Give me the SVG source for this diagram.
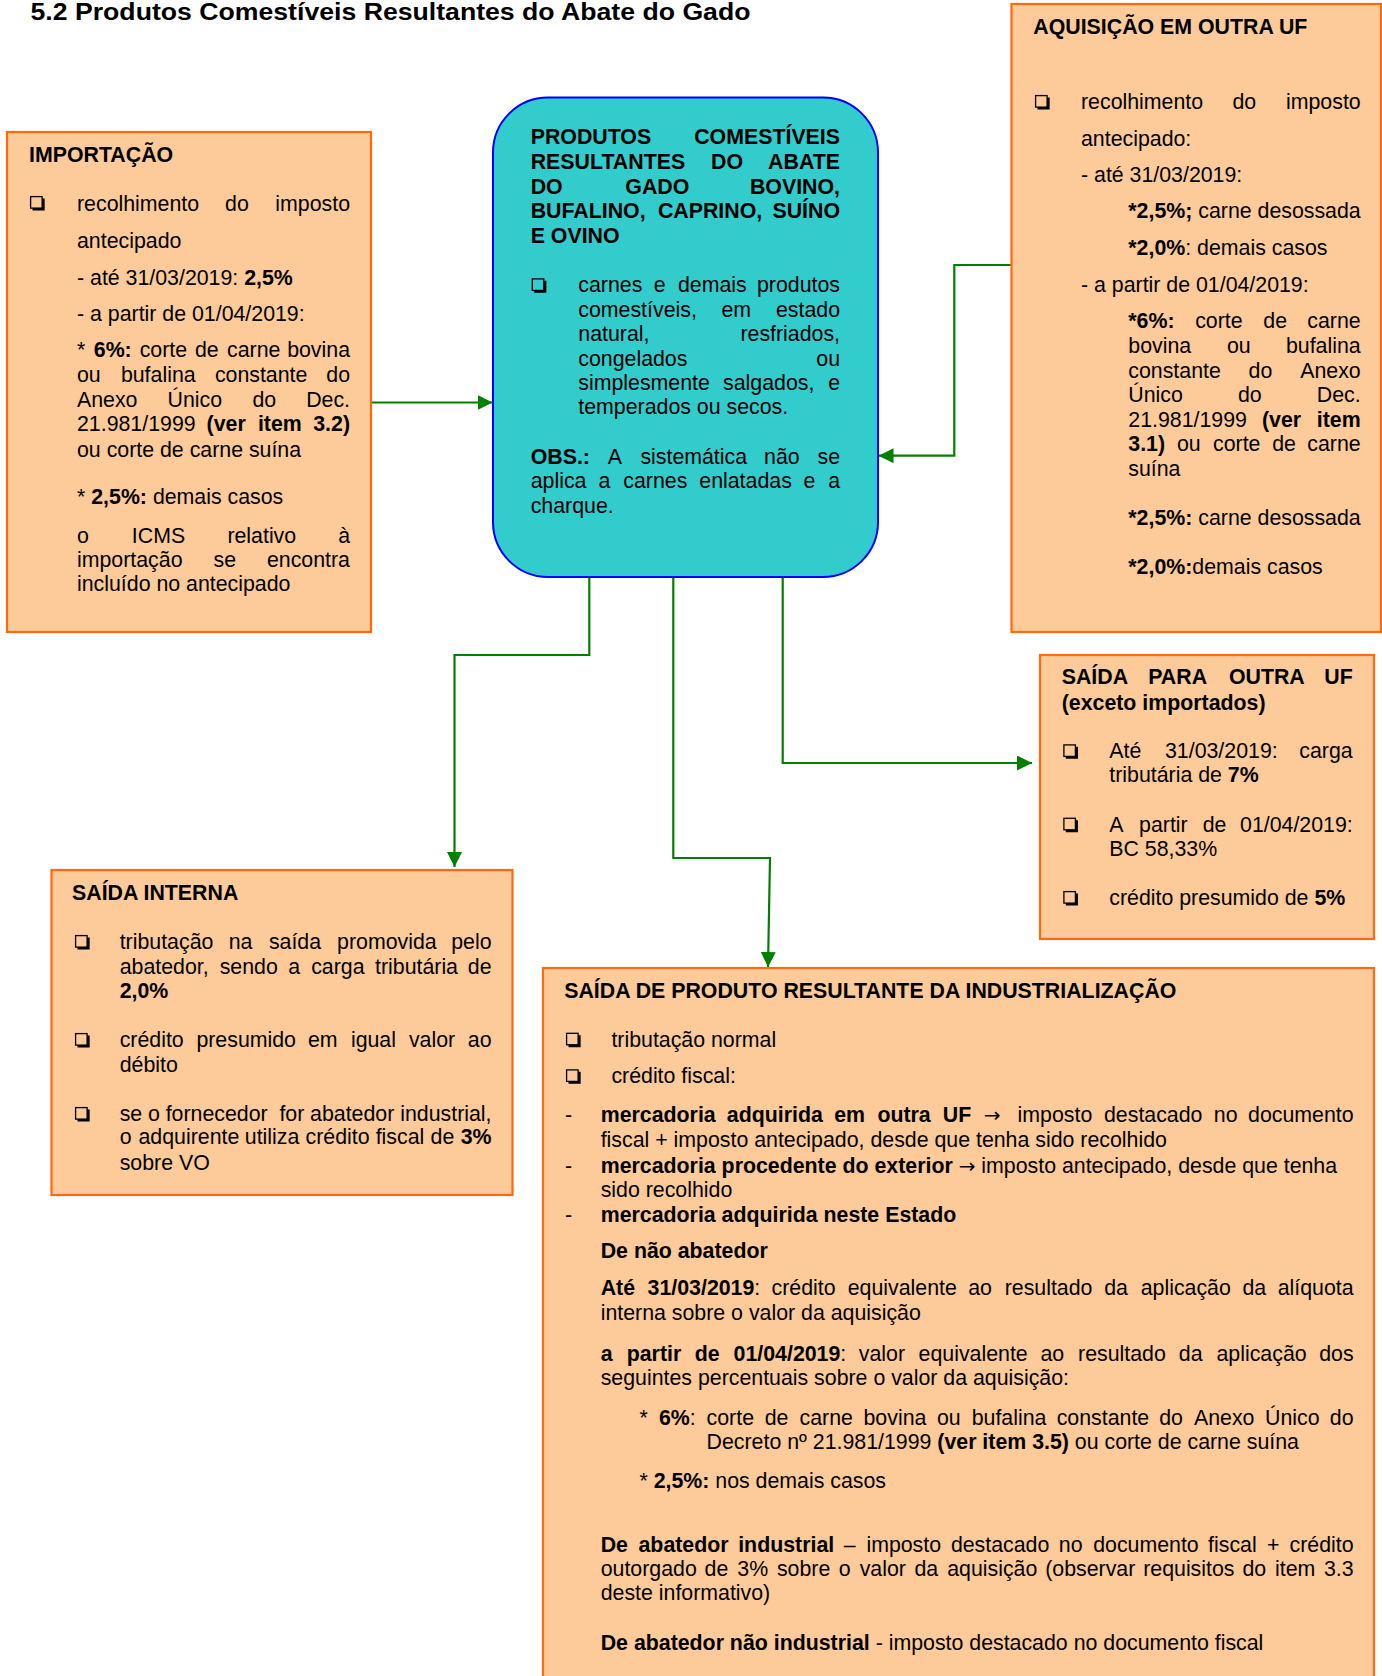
<svg xmlns="http://www.w3.org/2000/svg" xmlns:xlink="http://www.w3.org/1999/xlink" width="1382" height="1676" viewBox="0 0 1382 1676">
<style>
.box{fill:#FDCA99;stroke:#FF6A10;stroke-width:2.2}
.main{fill:#33CCCC;stroke:#0000FF;stroke-width:2}
text{font-family:"Liberation Sans",Arial,Helvetica,sans-serif;font-size:21.33px;fill:#000}
.b{font-weight:bold}
.ar{font-family:"DejaVu Sans",sans-serif;font-size:20px;font-weight:normal}
.conn{fill:none;stroke:#008000;stroke-width:2.2}
</style>
<defs>
<marker id="arr" markerUnits="userSpaceOnUse" markerWidth="16" markerHeight="16" refX="15" refY="7.5" orient="auto">
<path d="M0,0 L15,7.5 L0,15 Z" fill="#008000"/>
</marker>
<g id="cb">
<rect x="0.6" y="0.6" width="11.5" height="11.5" fill="none" stroke="#000" stroke-width="1.3"/>
<path d="M2.5,13.2 H13.4 V2.5" fill="none" stroke="#000" stroke-width="2.5"/>
</g>
</defs>
<rect width="1382" height="1676" fill="#FFFFFF"/>
<text class="b" x="30.5" y="19.5" style="font-size:23px" textLength="720" lengthAdjust="spacingAndGlyphs">5.2 Produtos Comestíveis Resultantes do Abate do Gado</text>

<g id="connectors">
<path class="conn" d="M371,402.5 H492.5" marker-end="url(#arr)"/>
<path class="conn" d="M1011,265 H954.3 V455.7 H878.5" marker-end="url(#arr)"/>
<path class="conn" d="M589.3,577 V655 H454.5 V867" marker-end="url(#arr)"/>
<path class="conn" d="M673.3,577 V858 H770 L768,967" marker-end="url(#arr)"/>
<path class="conn" d="M782.7,577 V763 H1032" marker-end="url(#arr)"/>
</g>

<g id="importacao">
<rect class="box" x="7" y="132" width="364" height="500"/>
<text class="b" x="29" y="161.5">IMPORTAÇÃO</text>
<use xlink:href="#cb" x="30" y="196"/>
<text y="210.7"><tspan x="77">recolhimento</tspan><tspan x="225.1">do</tspan><tspan x="350" text-anchor="end">imposto</tspan></text>
<text x="77" y="247.7">antecipado</text>
<text x="77" y="284.7">- até 31/03/2019: <tspan class="b">2,5%</tspan></text>
<text x="77" y="321.3">- a partir de 01/04/2019:</text>
<text y="357.3"><tspan x="77">*</tspan><tspan x="93.8" class="b">6%:</tspan><tspan x="139.7">corte</tspan><tspan x="195">de</tspan><tspan x="227">carne</tspan><tspan x="350" text-anchor="end">bovina</tspan></text>
<text y="382.3"><tspan x="77">ou</tspan><tspan x="120.9">bufalina</tspan><tspan x="214.9">constante</tspan><tspan x="350" text-anchor="end">do</tspan></text>
<text y="407.3"><tspan x="77">Anexo</tspan><tspan x="167.6">Único</tspan><tspan x="252.4">do</tspan><tspan x="350" text-anchor="end">Dec.</tspan></text>
<text y="431.3"><tspan x="77">21.981/1999</tspan><tspan x="206.6" class="b">(ver</tspan><tspan x="257.9" class="b">item</tspan><tspan x="350" text-anchor="end" class="b">3.2)</tspan></text>
<text x="77" y="456.7">ou corte de carne suína</text>
<text x="77" y="504">* <tspan class="b">2,5%:</tspan> demais casos</text>
<text y="542.7"><tspan x="77">o</tspan><tspan x="131.8">ICMS</tspan><tspan x="227.4">relativo</tspan><tspan x="350" text-anchor="end">à</tspan></text>
<text y="566.7"><tspan x="77">importação</tspan><tspan x="213.5">se</tspan><tspan x="350" text-anchor="end">encontra</tspan></text>
<text x="77" y="591">incluído no antecipado</text>
</g>

<g id="produtos">
<rect class="main" x="493" y="97.5" width="385" height="479.5" rx="55" ry="55"/>
<text class="b" y="144"><tspan x="530.7">PRODUTOS</tspan><tspan x="840" text-anchor="end">COMESTÍVEIS</tspan></text>
<text class="b" y="169"><tspan x="530.7">RESULTANTES</tspan><tspan x="711">DO</tspan><tspan x="840" text-anchor="end">ABATE</tspan></text>
<text class="b" y="193.8"><tspan x="530.7">DO</tspan><tspan x="625.3">GADO</tspan><tspan x="840" text-anchor="end">BOVINO,</tspan></text>
<text class="b" y="218.3"><tspan x="530.7">BUFALINO,</tspan><tspan x="657.9">CAPRINO,</tspan><tspan x="840" text-anchor="end">SUÍNO</tspan></text>
<text class="b" x="530.7" y="242.7">E OVINO</text>
<use xlink:href="#cb" x="531.7" y="278.3"/>
<text y="292.3"><tspan x="578.3">carnes</tspan><tspan x="653.8">e</tspan><tspan x="678">demais</tspan><tspan x="840" text-anchor="end">produtos</tspan></text>
<text y="317.2"><tspan x="578.3">comestíveis,</tspan><tspan x="721.4">em</tspan><tspan x="840" text-anchor="end">estado</tspan></text>
<text y="341"><tspan x="578.3">natural,</tspan><tspan x="840" text-anchor="end">resfriados,</tspan></text>
<text y="365.5"><tspan x="578.3">congelados</tspan><tspan x="840" text-anchor="end">ou</tspan></text>
<text y="389.8"><tspan x="578.3">simplesmente</tspan><tspan x="723.1">salgados,</tspan><tspan x="840" text-anchor="end">e</tspan></text>
<text x="578.3" y="414.3">temperados ou secos.</text>
<text y="464"><tspan x="530.7" class="b">OBS.:</tspan><tspan x="607.7">A</tspan><tspan x="640.4">sistemática</tspan><tspan x="764.1">não</tspan><tspan x="840" text-anchor="end">se</tspan></text>
<text y="488.3"><tspan x="530.7">aplica</tspan><tspan x="598.6">a</tspan><tspan x="623.3">carnes</tspan><tspan x="699.3">enlatadas</tspan><tspan x="803.4">e</tspan><tspan x="840" text-anchor="end">a</tspan></text>
<text x="530.7" y="512.7">charque.</text>
</g>

<g id="aquisicao">
<rect class="box" x="1011.5" y="4" width="369.5" height="628"/>
<text class="b" x="1033.3" y="33.5">AQUISIÇÃO EM OUTRA UF</text>
<use xlink:href="#cb" x="1035" y="95"/>
<text y="109.4"><tspan x="1081">recolhimento</tspan><tspan x="1232.5">do</tspan><tspan x="1360.7" text-anchor="end">imposto</tspan></text>
<text x="1081" y="145.7">antecipado:</text>
<text x="1081" y="181.6">- até 31/03/2019:</text>
<text x="1128.3" y="218.4"><tspan class="b">*2,5%;</tspan> carne desossada</text>
<text x="1128.3" y="255.1"><tspan class="b">*2,0%</tspan>: demais casos</text>
<text x="1081" y="291.8">- a partir de 01/04/2019:</text>
<text y="327.8"><tspan x="1128.3" class="b">*6%:</tspan><tspan x="1195.2">corte</tspan><tspan x="1263.3">de</tspan><tspan x="1360.7" text-anchor="end">carne</tspan></text>
<text y="353"><tspan x="1128.3">bovina</tspan><tspan x="1227">ou</tspan><tspan x="1360.7" text-anchor="end">bufalina</tspan></text>
<text y="377.6"><tspan x="1128.3">constante</tspan><tspan x="1248.6">do</tspan><tspan x="1360.7" text-anchor="end">Anexo</tspan></text>
<text y="402"><tspan x="1128.3">Único</tspan><tspan x="1238">do</tspan><tspan x="1360.7" text-anchor="end">Dec.</tspan></text>
<text y="426.5"><tspan x="1128.3">21.981/1999</tspan><tspan x="1262" class="b">(ver</tspan><tspan x="1360.7" text-anchor="end" class="b">item</tspan></text>
<text y="451"><tspan x="1128.3" class="b">3.1)</tspan><tspan x="1177">ou</tspan><tspan x="1213">corte</tspan><tspan x="1272.2">de</tspan><tspan x="1360.7" text-anchor="end">carne</tspan></text>
<text x="1128.3" y="475.5">suína</text>
<text x="1128.3" y="524.5"><tspan class="b">*2,5%:</tspan> carne desossada</text>
<text x="1128.3" y="573.5"><tspan class="b">*2,0%:</tspan>demais casos</text>
</g>

<g id="saida-outra-uf">
<rect class="box" x="1040" y="655" width="334" height="284"/>
<text class="b" y="684.3"><tspan x="1061.7">SAÍDA</tspan><tspan x="1148.2">PARA</tspan><tspan x="1228.9">OUTRA</tspan><tspan x="1352.7" text-anchor="end">UF</tspan></text>
<text class="b" x="1061.7" y="710">(exceto importados)</text>
<use xlink:href="#cb" x="1063.3" y="744.3"/>
<text y="758.3"><tspan x="1109.3">Até</tspan><tspan x="1165">31/03/2019:</tspan><tspan x="1352.7" text-anchor="end">carga</tspan></text>
<text x="1109.3" y="782.3">tributária de <tspan class="b">7%</tspan></text>
<use xlink:href="#cb" x="1063.3" y="817.7"/>
<text y="831.7"><tspan x="1109.3">A</tspan><tspan x="1139.1">partir</tspan><tspan x="1202.7">de</tspan><tspan x="1352.7" text-anchor="end">01/04/2019:</tspan></text>
<text x="1109.3" y="856">BC 58,33%</text>
<use xlink:href="#cb" x="1063.3" y="891"/>
<text x="1109.3" y="905">crédito presumido de <tspan class="b">5%</tspan></text>
</g>

<g id="saida-interna">
<rect class="box" x="51.5" y="870" width="461" height="325"/>
<text class="b" x="72" y="899.6">SAÍDA INTERNA</text>
<use xlink:href="#cb" x="75" y="935"/>
<text y="949"><tspan x="119.7">tributação</tspan><tspan x="228.7">na</tspan><tspan x="268.9">saída</tspan><tspan x="337.1">promovida</tspan><tspan x="491.5" text-anchor="end">pelo</tspan></text>
<text y="974"><tspan x="119.7">abatedor,</tspan><tspan x="219.7">sendo</tspan><tspan x="288.2">a</tspan><tspan x="311.2">carga</tspan><tspan x="375">tributária</tspan><tspan x="491.5" text-anchor="end">de</tspan></text>
<text class="b" x="119.7" y="998">2,0%</text>
<use xlink:href="#cb" x="75" y="1033"/>
<text y="1047"><tspan x="119.7">crédito</tspan><tspan x="196.4">presumido</tspan><tspan x="308">em</tspan><tspan x="350.9">igual</tspan><tspan x="408.9">valor</tspan><tspan x="491.5" text-anchor="end">ao</tspan></text>
<text x="119.7" y="1072">débito</text>
<use xlink:href="#cb" x="75" y="1107"/>
<text y="1121"><tspan x="119.7">se</tspan><tspan x="148">o</tspan><tspan x="165.7">fornecedor</tspan><tspan x="279.4">for</tspan><tspan x="310.1">abatedor</tspan><tspan x="491.5" text-anchor="end">industrial,</tspan></text>
<text y="1144.3"><tspan x="119.7">o</tspan><tspan x="138.5">adquirente</tspan><tspan x="244.8">utiliza</tspan><tspan x="305.6">crédito</tspan><tspan x="375.7">fiscal</tspan><tspan x="430.6">de</tspan><tspan x="491.5" text-anchor="end" class="b">3%</tspan></text>
<text x="119.7" y="1169.6">sobre VO</text>
</g>

<g id="saida-industrializacao">
<rect class="box" x="543" y="968" width="831" height="730"/>
<text class="b" x="564.2" y="997.7">SAÍDA DE PRODUTO RESULTANTE DA INDUSTRIALIZAÇÃO</text>
<use xlink:href="#cb" x="566" y="1032.7"/>
<text x="611.4" y="1046.7">tributação normal</text>
<use xlink:href="#cb" x="566" y="1069.3"/>
<text x="611.4" y="1083.3">crédito fiscal:</text>
<text x="565" y="1121.7">-</text>
<text y="1121.7"><tspan x="600.7" class="b">mercadoria</tspan><tspan x="726.8" class="b">adquirida</tspan><tspan x="834.2" class="b">em</tspan><tspan x="877.4" class="b">outra</tspan><tspan x="942.8" class="b">UF</tspan><tspan x="983.7" class="ar">→</tspan><tspan x="1017.6">imposto</tspan><tspan x="1104">destacado</tspan><tspan x="1213.8">no</tspan><tspan x="1353.6" text-anchor="end">documento</tspan></text>
<text x="600.7" y="1146.7">fiscal + imposto antecipado, desde que tenha sido recolhido</text>
<text x="565" y="1172.7">-</text>
<text x="600.7" y="1172.7"><tspan class="b">mercadoria procedente do exterior</tspan> <tspan class="ar">→</tspan> imposto antecipado, desde que tenha</text>
<text x="600.7" y="1197.3">sido recolhido</text>
<text x="565" y="1221.7">-</text>
<text class="b" x="600.7" y="1221.7">mercadoria adquirida neste Estado</text>
<text class="b" x="600.7" y="1258.3">De não abatedor</text>
<text y="1295"><tspan x="600.7" class="b">Até</tspan><tspan x="647.6" class="b">31/03/2019</tspan><tspan>:</tspan><tspan x="771.6">crédito</tspan><tspan x="847.7">equivalente</tspan><tspan x="968.2">ao</tspan><tspan x="1004.7">resultado</tspan><tspan x="1104.2">da</tspan><tspan x="1140.7">aplicação</tspan><tspan x="1242.5">da</tspan><tspan x="1353.6" text-anchor="end">alíquota</tspan></text>
<text x="600.7" y="1320">interna sobre o valor da aquisição</text>
<text y="1360.7"><tspan x="600.7" class="b">a</tspan><tspan x="626.7" class="b">partir</tspan><tspan x="694.8" class="b">de</tspan><tspan x="733.6" class="b">01/04/2019</tspan><tspan>:</tspan><tspan x="858.8">valor</tspan><tspan x="918.6">equivalente</tspan><tspan x="1040.4">ao</tspan><tspan x="1078.1">resultado</tspan><tspan x="1178.8">da</tspan><tspan x="1216.5">aplicação</tspan><tspan x="1353.6" text-anchor="end">dos</tspan></text>
<text x="600.7" y="1385">seguintes percentuais sobre o valor da aquisição:</text>
<text y="1425"><tspan x="639.4">*</tspan><tspan x="659" class="b">6%</tspan><tspan>:</tspan><tspan x="706.6">corte</tspan><tspan x="764.7">de</tspan><tspan x="799.6">carne</tspan><tspan x="863.5">bovina</tspan><tspan x="936.9">ou</tspan><tspan x="971.7">bufalina</tspan><tspan x="1056.7">constante</tspan><tspan x="1159.2">do</tspan><tspan x="1194">Anexo</tspan><tspan x="1265">Único</tspan><tspan x="1353.6" text-anchor="end">do</tspan></text>
<text x="706.6" y="1449.3">Decreto nº 21.981/1999 <tspan class="b">(ver item 3.5)</tspan> ou corte de carne suína</text>
<text x="639.4" y="1488.3">* <tspan class="b">2,5%:</tspan> nos demais casos</text>
<text y="1551.7"><tspan x="600.7" class="b">De</tspan><tspan x="638.5" class="b">abatedor</tspan><tspan x="738.2" class="b">industrial</tspan><tspan x="843.7">–</tspan><tspan x="866.4">imposto</tspan><tspan x="950.9">destacado</tspan><tspan x="1058.8">no</tspan><tspan x="1093.2">documento</tspan><tspan x="1208.1">fiscal</tspan><tspan x="1266.9">+</tspan><tspan x="1353.6" text-anchor="end">crédito</tspan></text>
<text y="1576"><tspan x="600.7">outorgado</tspan><tspan x="704.6">de</tspan><tspan x="737.3">3%</tspan><tspan x="776.9">sobre</tspan><tspan x="838.7">o</tspan><tspan x="859.7">valor</tspan><tspan x="914.5">da</tspan><tspan x="947.2">aquisição</tspan><tspan x="1045.2">(observar</tspan><tspan x="1143.2">requisitos</tspan><tspan x="1242.4">do</tspan><tspan x="1275.1">item</tspan><tspan x="1353.6" text-anchor="end">3.3</tspan></text>
<text x="600.7" y="1600">deste informativo)</text>
<text x="600.7" y="1650"><tspan class="b">De abatedor não industrial</tspan> - imposto destacado no documento fiscal</text>
</g>
</svg>
